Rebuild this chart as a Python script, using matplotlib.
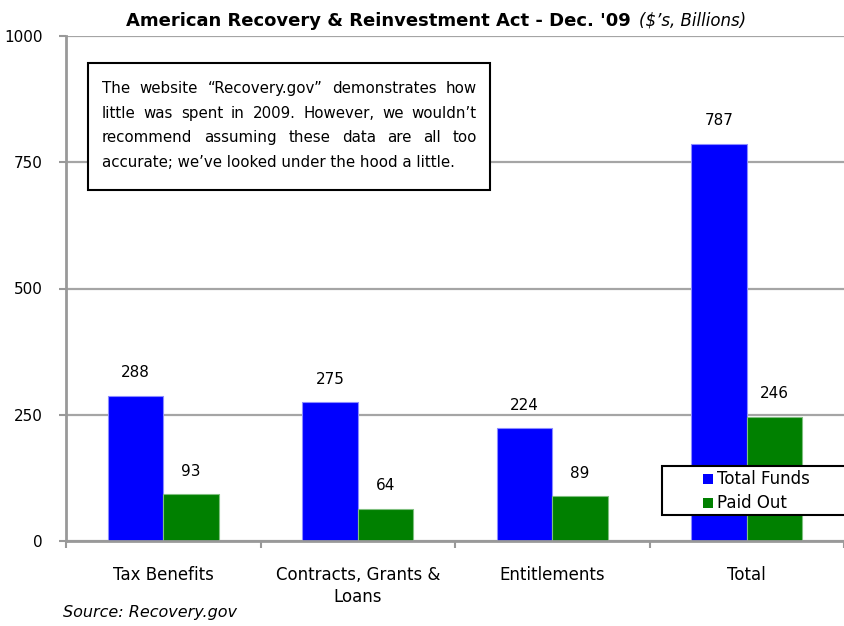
import matplotlib
matplotlib.use("Agg")
import matplotlib.pyplot as plt
import numpy as np
from matplotlib.patches import Rectangle

categories = ["Tax Benefits", "Contracts, Grants &\nLoans", "Entitlements", "Total"]
total_funds = [288, 275, 224, 787]
paid_out = [93, 64, 89, 246]
yticks = [0, 250, 500, 750, 1000]
series_names = ["Total Funds", "Paid Out"]
series_colors = ["#0000FF", "#008000"]
edge_colors = ["#8C8CFF", "#7FBF7F"]
note_lines = [
    "The website \u201cRecovery.gov\u201d demonstrates how",
    "little was spent in 2009. However, we wouldn\u2019t",
    "recommend assuming these data are all too",
    "accurate; we\u2019ve looked under the hood a little.",
]

plt.rcParams["font.family"] = ["DejaVu Sans"]

fig = plt.figure(figsize=(8.44, 6.26), dpi=100)
W, H = 844, 626
ax = fig.add_axes([66 / W, 1 - 541 / H, 1 - 66 / W, (541 - 36) / H])

x = np.arange(len(categories))
bw = 0.285
b1 = ax.bar(x - bw / 2, total_funds, bw, color=series_colors[0],
            edgecolor=edge_colors[0], linewidth=0.8, label=series_names[0], zorder=3)
b2 = ax.bar(x + bw / 2, paid_out, bw, color=series_colors[1],
            edgecolor=edge_colors[1], linewidth=0.8, label=series_names[1], zorder=3)

for xs, vals in ((x - bw / 2, total_funds), (x + bw / 2, paid_out)):
    for xi, v in zip(xs, vals):
        ax.annotate(str(v), (xi, v), xytext=(0, 11), textcoords="offset points",
                    ha="center", va="bottom", fontsize=11, zorder=4)

ax.set_xlim(-0.5, len(categories) - 0.5)
ax.set_ylim(0, 1000)
ax.set_yticks(yticks)
ax.set_yticklabels([str(t) for t in yticks], fontsize=11)
ax.set_xticks(x)
ax.set_xticklabels(categories, fontsize=12, linespacing=1.3)
ax.set_xticks(np.arange(-0.5, len(categories), 1.0), minor=True)
ax.tick_params(axis="x", which="major", length=0, pad=18)
ax.tick_params(axis="x", which="minor", length=5, color="#999999", width=1.5, direction="out")
ax.tick_params(axis="y", length=5, color="#999999", width=1.5, direction="out", pad=12)
ax.set_axisbelow(True)
ax.yaxis.grid(True, color="#A5A5A5", linewidth=1.6)
for s in ["top", "right"]:
    ax.spines[s].set_visible(False)
for s in ["left", "bottom"]:
    ax.spines[s].set_color("#999999")
    ax.spines[s].set_linewidth(2)
    ax.spines[s].set_zorder(3.5)

# Title
fig.text(631 / W, 1 - 21 / H, "American Recovery & Reinvestment Act - Dec. '09",
         ha="right", va="center", fontsize=13, fontweight="bold")
fig.text(639 / W, 1 - 21 / H, "($\u2019s, Billions)", ha="left", va="center",
         fontsize=12, fontstyle="italic")

# Source
fig.text(63 / W, 1 - 613 / H, "Source: Recovery.gov", ha="left", va="center",
         fontsize=11.5, fontstyle="italic")

# Note box
box = Rectangle((88 / W, 1 - 190 / H), (490 - 88) / W, (190 - 63) / H,
                transform=fig.transFigure, facecolor="white", edgecolor="black",
                linewidth=1.5, zorder=5)
fig.add_artist(box)

renderer = fig.canvas.get_renderer()
left_px, right_px = 102, 477
line_base = [93, 118, 142, 167]
fs_note = 10.8
for i, (line, ly) in enumerate(zip(note_lines, line_base)):
    words = line.split(" ")
    if i == len(note_lines) - 1:
        fig.text(left_px / W, 1 - ly / H, line, ha="left", va="baseline",
                 fontsize=fs_note, zorder=6)
        continue
    widths = []
    for w in words:
        t = fig.text(0, 0, w, fontsize=fs_note)
        widths.append(t.get_window_extent(renderer).width)
        t.remove()
    gap = (right_px - left_px - sum(widths)) / (len(words) - 1)
    cx = left_px
    for w, wd in zip(words, widths):
        fig.text(cx / W, 1 - ly / H, w, ha="left", va="baseline", fontsize=fs_note, zorder=6)
        cx += wd + gap

# Legend (drawn manually to match position/spacing)
leg_box = Rectangle((662 / W, 1 - 515 / H), (850 - 662) / W, (515 - 466) / H,
                    transform=fig.transFigure, facecolor="white", edgecolor="black",
                    linewidth=1.5, zorder=7, clip_on=False)
fig.add_artist(leg_box)
for name, col, ly in zip(series_names, series_colors, [479, 503]):
    fig.add_artist(Rectangle((703 / W, 1 - (ly + 5) / H), 10 / W, 10 / H,
                             transform=fig.transFigure, facecolor=col,
                             edgecolor="none", zorder=8))
    fig.text(717 / W, 1 - ly / H, name, ha="left", va="center", fontsize=12, zorder=9)

fig.savefig("out.png", dpi=100)
